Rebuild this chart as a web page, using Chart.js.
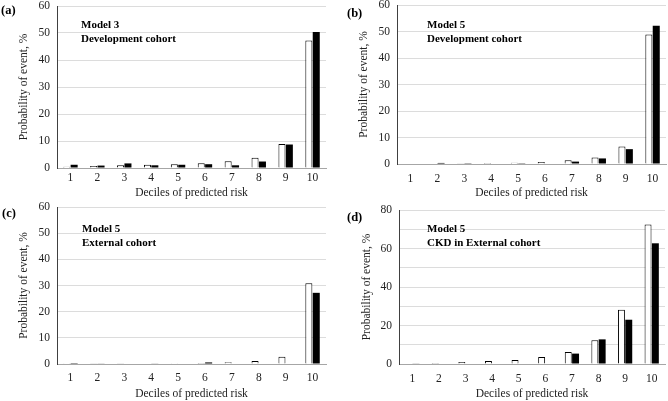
<!DOCTYPE html>
<html>
<head>
<meta charset="utf-8">
<script src="https://cdn.jsdelivr.net/npm/chart.js@4/dist/chart.umd.min.js"></script>
<style>
  html, body { margin: 0; padding: 0; background: #fff; }
  #wrap { position: relative; width: 668px; height: 401px; overflow: hidden; font-family: "Liberation Serif", "Times New Roman", serif; }
  canvas { position: absolute; }
  .lbl { position: absolute; font-weight: bold; font-size: 12.5px; color: #000; line-height: 1; white-space: nowrap; }
  .ann { position: absolute; font-weight: bold; font-size: 11px; color: #000; line-height: 13.5px; white-space: nowrap; }
</style>
</head>
<body>
<div id="wrap">
  <canvas id="ca" width="334" height="200" style="left:0;top:0"></canvas>
  <canvas id="cb" width="334" height="200" style="left:334px;top:0"></canvas>
  <canvas id="cc" width="334" height="201" style="left:0;top:200px"></canvas>
  <canvas id="cd" width="334" height="201" style="left:334px;top:200px"></canvas>
  <div class="lbl" style="left:1px;top:4px">(a)</div>
  <div class="lbl" style="left:347px;top:7px">(b)</div>
  <div class="lbl" style="left:2px;top:207px">(c)</div>
  <div class="lbl" style="left:347px;top:211px">(d)</div>
  <div class="ann" style="left:81px;top:18px">Model 3<br>Development cohort</div>
  <div class="ann" style="left:427px;top:18px">Model 5<br>Development cohort</div>
  <div class="ann" style="left:82px;top:222px">Model 5<br>External cohort</div>
  <div class="ann" style="left:427px;top:222px">Model 5<br>CKD in External cohort</div>
</div>
<script>
// ---- data ----
const deciles = ["1","2","3","4","5","6","7","8","9","10"];
// (a) Model 3, development cohort
const predA = [0.5, 0.7, 1.0, 1.2, 1.4, 1.8, 2.5, 3.8, 8.9, 47.2];
const obsA  = [1.2, 0.9, 1.7, 1.0, 1.2, 1.4, 1.0, 2.4, 8.7, 50.4];
// (b) Model 5, development cohort
const predB = [0.15, 0.2, 0.1, 0.4, 0.5, 0.75, 1.4, 2.5, 6.6, 48.9];
const obsB  = [0, 0.4, 0.3, 0.2, 0.3, 0, 0.9, 2.1, 5.6, 52.2];
// (c) Model 5, external cohort
const predC = [0.05, 0.1, 0.1, 0.15, 0.3, 0.4, 0.7, 1.1, 2.8, 30.9];
const obsC  = [0.05, 0.15, 0.2, 0.15, 0, 0.6, 0, 0, 0, 27.2];
// (d) Model 5, CKD in external cohort
const predD = [0.2, 0.5, 1.0, 1.6, 2.1, 3.6, 6.2, 12.4, 28.2, 72.5];
const obsD  = [0.2, 0, 0, 0, 0, 0, 5.4, 12.8, 23.0, 62.7];
const yTitle = "Probability of event, %";
const xTitle = "Deciles of predicted risk";

const FONT = "'Liberation Serif', 'Times New Roman', serif";

function makeChart(id, pred, obs, o) {
  new Chart(document.getElementById(id), {
    type: 'bar',
    data: {
      labels: deciles,
      datasets: [
        { data: pred, backgroundColor: '#ffffff', borderColor: '#000000', borderWidth: 1,
          categoryPercentage: 0.55, barPercentage: 0.95 },
        { data: obs, backgroundColor: '#000000', borderColor: '#000000', borderWidth: 0,
          categoryPercentage: 0.55, barPercentage: 0.95 }
      ]
    },
    options: {
      responsive: false,
      animation: false,
      devicePixelRatio: 1,
      layout: { padding: { top: o.top, right: o.right, left: 0, bottom: 0 } },
      plugins: { legend: { display: false }, tooltip: { enabled: false } },
      scales: {
        x: {
          grid: { display: false, drawTicks: false },
          border: { display: true, color: '#a6a6a6', width: 1 },
          ticks: { color: '#222', font: { family: FONT, size: 11.5 }, padding: o.xpad, maxRotation: 0 },
          title: { display: true, text: xTitle, color: '#222', font: { family: FONT, size: 11.5 }, padding: { top: 0, bottom: o.xtb } },
          afterFit: s => { s.height = o.xh; s.paddingLeft = 0; s.paddingRight = 0; }
        },
        y: {
          min: 0, max: o.max,
          grid: { color: '#dcdcdc', drawTicks: false, lineWidth: 1 },
          border: { display: true, color: '#404040', width: 1 },
          ticks: { stepSize: 10, color: '#222', font: { family: FONT, size: 11.5 }, padding: 7,
                   callback: v => (v % o.lab === 0 ? v : '') },
          title: { display: true, text: yTitle, color: '#222', font: { family: FONT, size: 11.5 }, padding: { top: o.ytp, bottom: 0 } },
          afterFit: s => { s.width = o.yw; s.paddingTop = 0; s.paddingBottom = 0; }
        }
      }
    }
  });
}

makeChart('ca', predA, obsA, { top: 6, right: 8, xh: 32, yw: 57, max: 60, lab: 10, xpad: 3, xtb: 0, ytp: 17 });
makeChart('cb', predB, obsB, { top: 5, right: 2, xh: 36, yw: 63, max: 60, lab: 10, xpad: 8, xtb: 0, ytp: 23 });
makeChart('cc', predC, obsC, { top: 7, right: 8, xh: 37, yw: 57, max: 60, lab: 10, xpad: 7, xtb: 0, ytp: 17 });
makeChart('cd', predD, obsD, { top: 10, right: 3, xh: 37, yw: 65, max: 80, lab: 20, xpad: 8, xtb: 0, ytp: 26 });
</script>
</body>
</html>
